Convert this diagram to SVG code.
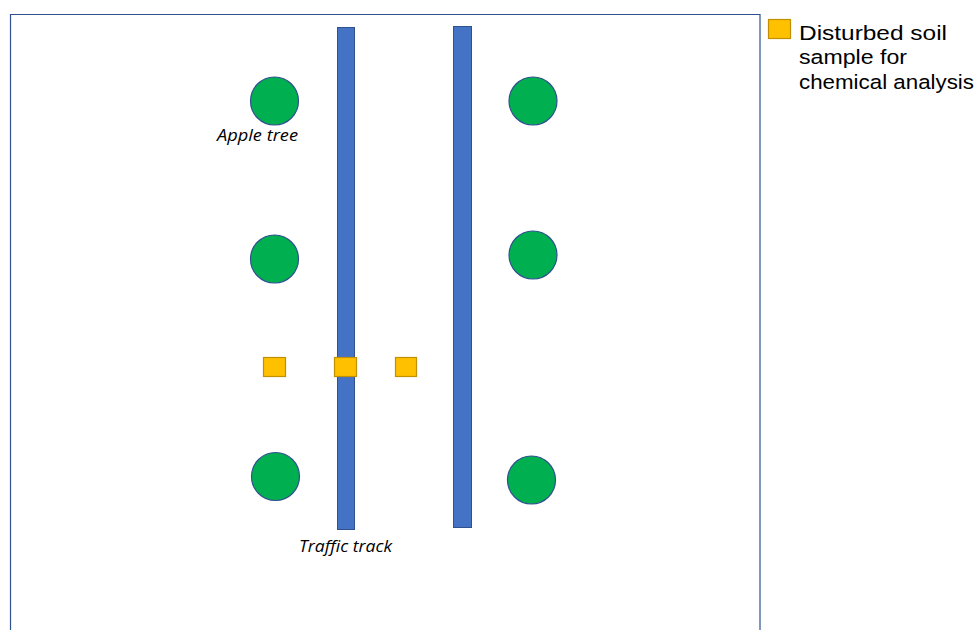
<svg xmlns="http://www.w3.org/2000/svg" width="974" height="630" viewBox="0 0 974 630">
<style>
.tree{fill:#00B050;stroke:#2F528F;stroke-width:1.2}
.track{fill:#4472C4;stroke:#2F528F;stroke-width:1}
.sample{fill:#FFC000;stroke:#BF9000;stroke-width:1.2}
.lbl{font-family:"Open Sans","Liberation Sans",sans-serif;font-style:italic;font-size:15.5px;fill:#000}
.leg{font-family:"Liberation Sans",Arial,sans-serif;font-size:20.5px;fill:#000}
</style>
<rect x="0" y="0" width="974" height="630" fill="#fff"/>
<path d="M10.5,640 V14.5 H760 V640" fill="none" stroke="#2F528F" stroke-width="1.2"/>
<g id="track1"><rect class="track" x="337.5" y="27.5" width="17" height="502"/></g>
<g id="track2"><rect class="track" x="453.5" y="26.5" width="18" height="501"/></g>
<g id="tree1"><circle class="tree" cx="274.5" cy="101" r="24"/></g>
<g id="tree2"><circle class="tree" cx="533" cy="101" r="24"/></g>
<g id="tree3"><circle class="tree" cx="274.5" cy="259" r="24"/></g>
<g id="tree4"><circle class="tree" cx="533" cy="255" r="24"/></g>
<g id="tree5"><circle class="tree" cx="275.5" cy="476.5" r="24"/></g>
<g id="tree6"><circle class="tree" cx="531.5" cy="480" r="24"/></g>
<g id="sample1"><rect class="sample" x="263.5" y="357.5" width="22" height="19"/></g>
<g id="sample2"><rect class="sample" x="334.5" y="357.5" width="22" height="19"/></g>
<g id="sample3"><rect class="sample" x="395.5" y="357.5" width="21" height="19"/></g>
<g id="label-apple"><text class="lbl" x="217" y="141" textLength="81" lengthAdjust="spacingAndGlyphs">Apple tree</text></g>
<g id="label-track"><text class="lbl" x="299" y="552" textLength="93" lengthAdjust="spacingAndGlyphs">Traffic track</text></g>
<g id="legend">
<rect class="sample" x="768.5" y="19.5" width="22" height="19"/>
<text class="leg" x="799" y="40" textLength="148" lengthAdjust="spacingAndGlyphs">Disturbed soil</text>
<text class="leg" x="799" y="64" textLength="108" lengthAdjust="spacingAndGlyphs">sample for</text>
<text class="leg" x="799" y="88.5" textLength="175" lengthAdjust="spacingAndGlyphs">chemical analysis</text>
</g>
<g id="connectors"/>
</svg>
